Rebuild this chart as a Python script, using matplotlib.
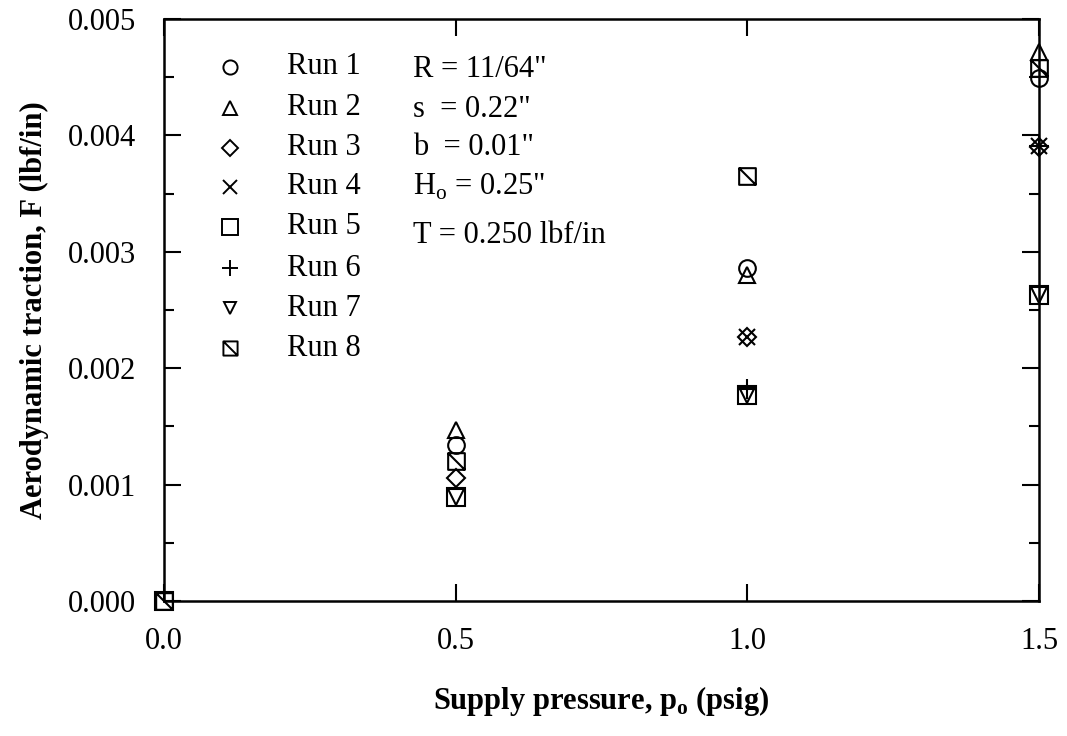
#! /usr/bin/env python3

import matplotlib
matplotlib.use('Agg')
import matplotlib.pyplot as plt
from matplotlib.path import Path
from matplotlib.ticker import MultipleLocator, FormatStrFormatter

plt.rcParams['font.family'] = ['Liberation Serif', 'DejaVu Serif']
plt.rcParams['mathtext.fontset'] = 'custom'
plt.rcParams['mathtext.rm'] = 'Liberation Serif'
plt.rcParams['mathtext.bf'] = 'Liberation Serif:bold'

# aerodynamic traction (lbf/in) vs supply pressure (psig)
runs = ['Run 1', 'Run 2', 'Run 3', 'Run 4', 'Run 5', 'Run 6', 'Run 7', 'Run 8']
p1 = [0.5, 1.0, 1.5]
F1 = [0.00134, 0.00286, 0.00449]
p2 = [0.5, 1.0, 1.5]
F2 = [0.00147, 0.00280, 0.00472]
p3 = [0.5, 1.0, 1.5]
F3 = [0.00106, 0.00227, 0.00390]
p4 = [1.0, 1.5]
F4 = [0.00227, 0.00391]
p5 = [0.0, 0.5, 1.0, 1.5]
F5 = [0.0, 0.00089, 0.00177, 0.00263]
p6 = [1.0, 1.5]
F6 = [0.00182, 0.00391]
p7 = [0.5, 1.0, 1.5]
F7 = [0.00089, 0.00177, 0.00263]
p8 = [0.0, 0.5, 1.0, 1.5]
F8 = [0.0, 0.00120, 0.00365, 0.00458]

params = ['R = 11/64"', 's  = 0.22"', 'b  = 0.01"',
          r'H$_\mathregular{o}$ = 0.25"', 'T = 0.250 lbf/in']

# square with a diagonal for run 8
boxslash = Path([(-1, -1), (1, -1), (1, 1), (-1, 1), (-1, -1), (-1, 1), (1, -1)],
                [Path.MOVETO, Path.LINETO, Path.LINETO, Path.LINETO, Path.CLOSEPOLY,
                 Path.MOVETO, Path.LINETO])

xs = [p1, p2, p3, p4, p5, p6, p7, p8]
ys = [F1, F2, F3, F4, F5, F6, F7, F8]
marks = ['o', '^', 'D', 'x', 's', '+', 'v', boxslash]
sizes = [12, 12, 9, 12, 13, 14, 11, 12]

fig = plt.figure(figsize=(10.67, 7.36), dpi=100)
ax = fig.add_axes([0.1537, 0.1834, 0.82, 0.7908])

for x, y, m, ms in zip(xs, ys, marks, sizes):
    ax.plot(x, y, linestyle='none', marker=m, markersize=ms, markerfacecolor='none',
            markeredgecolor='black', markeredgewidth=1.5, clip_on=False, zorder=3)

ax.set_xlim(0, 1.5)
ax.set_ylim(0, 0.005)
ax.xaxis.set_major_locator(MultipleLocator(0.5))
ax.xaxis.set_major_formatter(FormatStrFormatter('%.1f'))
ax.yaxis.set_major_locator(MultipleLocator(0.001))
ax.yaxis.set_minor_locator(MultipleLocator(0.0005))
ax.yaxis.set_major_formatter(FormatStrFormatter('%.3f'))
ax.tick_params(which='both', direction='in', top=True, right=True, width=1.5, labelsize=22)
ax.tick_params(which='major', length=12.5)
ax.tick_params(which='minor', length=7)
ax.tick_params(axis='x', pad=19)
ax.tick_params(axis='y', pad=20)
for s in ax.spines.values():
    s.set_linewidth(1.8)

ax.set_xlabel(r'Supply pressure, p$_\mathbf{o}$ (psig)', fontsize=22, fontweight='bold', labelpad=20)
ax.set_ylabel('Aerodynamic traction, F (lbf/in)', fontsize=22, fontweight='bold', labelpad=14)

# hand-made legend block in the upper left
row_y = [67, 108, 148, 187, 227, 268, 308, 348]
for i, (lab, m, ms) in enumerate(zip(runs, marks, sizes)):
    yy = 1 - (row_y[i] - 19) / 582.0
    ax.plot((230 - 164) / 875.0, yy, transform=ax.transAxes, marker=m, markersize=ms * 0.85,
            markerfacecolor='none', markeredgecolor='black', markeredgewidth=1.4,
            linestyle='none', clip_on=False)
    ax.text((287 - 164) / 875.0, yy, lab, transform=ax.transAxes, fontsize=22, va='center')

par_y = [70, 110, 148, 187, 236]
for t, py in zip(params, par_y):
    ax.text((413 - 164) / 875.0, 1 - (py - 19) / 582.0, t, transform=ax.transAxes,
            fontsize=22, va='center')

fig.savefig('out.png', dpi=100)
